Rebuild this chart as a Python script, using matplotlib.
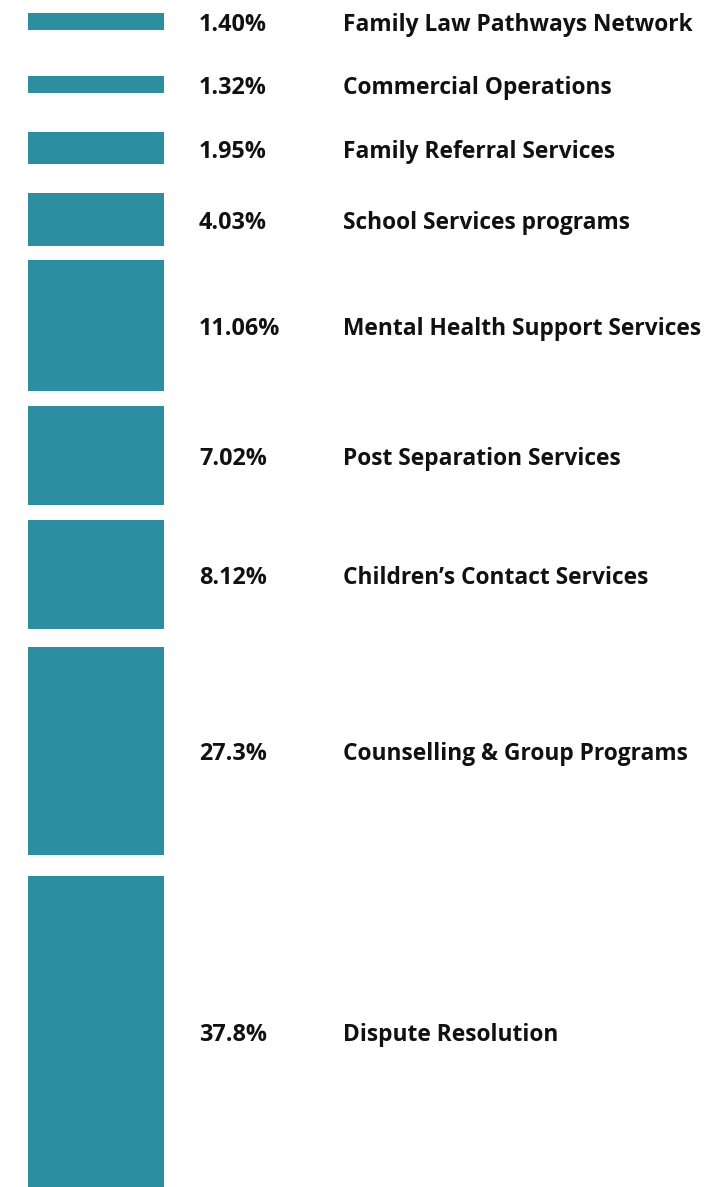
import numpy as np
import matplotlib.pyplot as plt

services = ["Family Law Pathways Network", "Commercial Operations",
            "Family Referral Services", "School Services programs",
            "Mental Health Support Services", "Post Separation Services",
            "Children\u2019s Contact Services", "Counselling & Group Programs",
            "Dispute Resolution"]
shares = ["1.40%", "1.32%", "1.95%", "4.03%", "11.06%", "7.02%", "8.12%", "27.3%", "37.8%"]

# block sizes as drawn in the original layout (not proportional to the shares)
block_h = np.array([17.3, 16.7, 32, 53.3, 130.7, 99, 108.7, 208, 311])
gaps = np.array([12.7, 46, 39.3, 28.7, 14, 15.3, 15, 18.3, 21])

tops = np.cumsum(gaps + block_h) - block_h
centers = tops + block_h / 2

fig = plt.figure(figsize=(7.13, 11.87), dpi=100)
ax = fig.add_axes([0, 0, 1, 1])
ax.barh(centers, 136, height=block_h, left=28, color="#2d8ea1", align="center")

for y, s, name in zip(centers, shares, services):
    ax.text(199, y + 3.5, s, fontsize=16.8, fontweight="bold", family="Open Sans",
            color="#111111", va="center", ha="left")
    ax.text(343, y + 3.5, name, fontsize=16.4, fontweight="bold", family="Open Sans",
            color="#111111", va="center", ha="left")

ax.set_xlim(0, 713)
ax.set_ylim(1187, 0)
ax.axis("off")
fig.savefig("out.png", dpi=100)
